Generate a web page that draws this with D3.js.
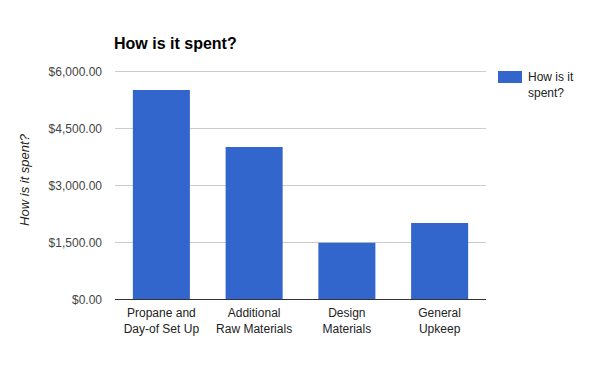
<!DOCTYPE html>
<html>
<head>
<meta charset="utf-8">
<script src="https://cdn.jsdelivr.net/npm/d3@7"></script>
<style>
  body { margin: 0; background: #fff; }
  text { font-family: Arial, "Liberation Sans", sans-serif; }
</style>
</head>
<body>
<div id="chart"></div>
<script>
'use strict';

var categories = [
    ["Propane and", "Day-of Set Up"],
    ["Additional", "Raw Materials"],
    ["Design", "Materials"],
    ["General", "Upkeep"]
];
var values = [5500, 4000, 1480, 2000];
var yTicks = [0, 1500, 3000, 4500, 6000];
var title = "How is it spent?";
var seriesName = ["How is it", "spent?"];

var outerWidth = 600,
    outerHeight = 371,
    margin = {left: 115, right: 114, top: 71, bottom: 72},
    width = outerWidth - margin.left - margin.right,
    height = outerHeight - margin.top - margin.bottom;

var svg = d3.select("#chart")
    .append("svg")
    .attr("width", outerWidth)
    .attr("height", outerHeight);

var g = svg.append("g")
    .attr("transform", "translate(" + margin.left + "," + margin.top + ")");

var xScale = d3.scaleBand()
    .domain(d3.range(categories.length))
    .range([0, width])
    .paddingInner(0.385)
    .paddingOuter(0.1925);

var yScale = d3.scaleLinear()
    .domain([0, 6000])
    .range([height, 0]);

var fmt = d3.format("$,.2f");

// gridlines
g.selectAll("line.grid")
    .data(yTicks.filter(function (d) { return d > 0; }))
    .enter().append("line")
    .attr("class", "grid")
    .attr("x1", 0)
    .attr("x2", width)
    .attr("y1", function (d) { return Math.round(yScale(d)) + 0.5; })
    .attr("y2", function (d) { return Math.round(yScale(d)) + 0.5; })
    .attr("stroke", "#cccccc");

// y tick labels
g.selectAll("text.ytick")
    .data(yTicks)
    .enter().append("text")
    .attr("class", "ytick")
    .attr("x", -13)
    .attr("y", function (d) { return yScale(d) + 4.5; })
    .attr("text-anchor", "end")
    .attr("font-size", "12px")
    .attr("fill", "#444")
    .text(fmt);

// bars
g.selectAll("rect.bar")
    .data(values)
    .enter().append("rect")
    .attr("class", "bar")
    .attr("x", function (d, i) { return xScale(i); })
    .attr("width", xScale.bandwidth())
    .attr("y", function (d) { return yScale(d); })
    .attr("height", function (d) { return height - yScale(d); })
    .attr("fill", "#3366cc");

// baseline
g.append("line")
    .attr("x1", 0)
    .attr("x2", width)
    .attr("y1", Math.round(height) + 0.5)
    .attr("y2", Math.round(height) + 0.5)
    .attr("stroke", "#333");

// category labels
var cat = g.selectAll("text.xtick")
    .data(categories)
    .enter().append("text")
    .attr("class", "xtick")
    .attr("text-anchor", "middle")
    .attr("font-size", "12px")
    .attr("fill", "#222")
    .attr("x", function (d, i) { return xScale(i) + xScale.bandwidth() / 2; });

cat.selectAll("tspan")
    .data(function (d) { return d; })
    .enter().append("tspan")
    .attr("x", function () { return d3.select(this.parentNode).attr("x"); })
    .attr("y", function (d, i) { return height + 17.5 + i * 16; })
    .text(function (d) { return d; });

// title
svg.append("text")
    .attr("x", 114)
    .attr("y", 49)
    .attr("font-size", "16px")
    .attr("font-weight", "bold")
    .attr("fill", "#000")
    .text(title);

// y axis label
svg.append("text")
    .attr("transform", "rotate(-90)")
    .attr("x", -180)
    .attr("y", 29)
    .attr("text-anchor", "middle")
    .attr("font-size", "13px")
    .attr("font-style", "italic")
    .attr("fill", "#222")
    .text(title);

// legend
var legend = svg.append("g")
    .attr("transform", "translate(498,71)");

legend.append("rect")
    .attr("width", 24)
    .attr("height", 12)
    .attr("fill", "#3366cc");

legend.append("text")
    .attr("font-size", "12px")
    .attr("fill", "#222")
    .selectAll("tspan")
    .data(seriesName)
    .enter().append("tspan")
    .attr("x", 30)
    .attr("y", function (d, i) { return 10 + i * 16; })
    .text(function (d) { return d; });
</script>
</body>
</html>
